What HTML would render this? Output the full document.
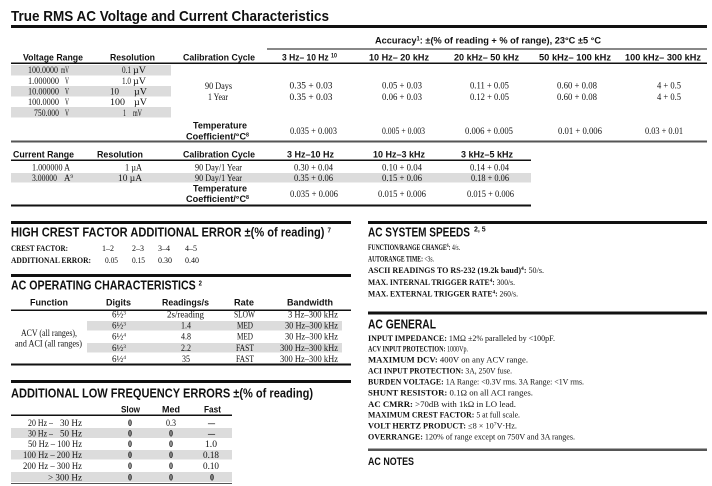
<!DOCTYPE html>
<html><head><meta charset="utf-8"><style>
html,body{margin:0;padding:0;background:#fff;}
svg{display:block;}
.t{font-family:"Liberation Sans",sans-serif;font-weight:bold;font-size:15px;fill:#111;}
.sec{font-family:"Liberation Sans",sans-serif;font-weight:bold;font-size:12.5px;fill:#111;}
.h{font-family:"Liberation Sans",sans-serif;font-weight:bold;font-size:9.5px;fill:#111;}
.d{font-family:"Liberation Serif",serif;font-size:9px;fill:#111;}
.i{font-family:"Liberation Serif",serif;font-size:8px;fill:#111;}
.b{font-weight:bold;}
.g{fill:#dcdcdc;}
.k{fill:#111;}
.m{fill:#555;}
</style></head><body>
<svg width="712" height="486" viewBox="0 0 712 486" xmlns="http://www.w3.org/2000/svg">
<!-- Title -->
<text class="t" x="11" y="21" textLength="318" lengthAdjust="spacingAndGlyphs">True RMS AC Voltage and Current Characteristics</text>
<rect class="k" x="11" y="25" width="696" height="3"/>

<!-- Accuracy -->
<text class="h" x="375" y="43.5" textLength="226" lengthAdjust="spacingAndGlyphs">Accuracy<tspan font-size="6" dy="-3">1</tspan><tspan dy="3">: ±(% of reading + % of range), 23°C ±5 °C</tspan></text>
<rect class="k" x="267" y="48.5" width="440" height="1"/>

<!-- Voltage header -->
<text class="h" x="23" y="60.5" textLength="60" lengthAdjust="spacingAndGlyphs">Voltage Range</text>
<text class="h" x="110" y="60.5" textLength="45" lengthAdjust="spacingAndGlyphs">Resolution</text>
<text class="h" x="183" y="60.5" textLength="72" lengthAdjust="spacingAndGlyphs">Calibration Cycle</text>
<text class="h" x="282" y="60.5" textLength="55" lengthAdjust="spacingAndGlyphs">3 Hz– 10 Hz <tspan font-size="6" dy="-3">10</tspan></text>
<text class="h" x="369" y="60.5" textLength="60" lengthAdjust="spacingAndGlyphs">10 Hz– 20 kHz</text>
<text class="h" x="454" y="60.5" textLength="65" lengthAdjust="spacingAndGlyphs">20 kHz– 50 kHz</text>
<text class="h" x="539" y="60.5" textLength="72" lengthAdjust="spacingAndGlyphs">50 kHz– 100 kHz</text>
<text class="h" x="625" y="60.5" textLength="76" lengthAdjust="spacingAndGlyphs">100 kHz– 300 kHz</text>
<rect class="k" x="11" y="62.5" width="696" height="1.5"/>

<rect class="g" x="11" y="65" width="160" height="10.5"/>
<rect class="g" x="11" y="86" width="160" height="10.5"/>
<rect class="g" x="11" y="107" width="160" height="10.5"/>

<text class="d" x="28" y="73" textLength="30" lengthAdjust="spacingAndGlyphs">100.0000</text><text class="d" x="61" y="73" textLength="8" lengthAdjust="spacingAndGlyphs">mV</text>
<text class="d" x="28" y="84" textLength="31" lengthAdjust="spacingAndGlyphs">1.000000</text><text class="d" x="65" y="84" textLength="4" lengthAdjust="spacingAndGlyphs">V</text>
<text class="d" x="28" y="94.5" textLength="31" lengthAdjust="spacingAndGlyphs">10.00000</text><text class="d" x="65" y="94.5" textLength="4" lengthAdjust="spacingAndGlyphs">V</text>
<text class="d" x="28" y="105" textLength="31" lengthAdjust="spacingAndGlyphs">100.0000</text><text class="d" x="65" y="105" textLength="4" lengthAdjust="spacingAndGlyphs">V</text>
<text class="d" x="34" y="116" textLength="25" lengthAdjust="spacingAndGlyphs">750.000</text><text class="d" x="65" y="116" textLength="4" lengthAdjust="spacingAndGlyphs">V</text>

<text class="d" x="122" y="73" textLength="9" lengthAdjust="spacingAndGlyphs">0.1</text><text class="d" x="133" y="73" textLength="13" lengthAdjust="spacingAndGlyphs">µV</text>
<text class="d" x="122" y="84" textLength="9" lengthAdjust="spacingAndGlyphs">1.0</text><text class="d" x="133" y="84" textLength="13" lengthAdjust="spacingAndGlyphs">µV</text>
<text class="d" x="110" y="94.5" textLength="9" lengthAdjust="spacingAndGlyphs">10</text><text class="d" x="134" y="94.5" textLength="13" lengthAdjust="spacingAndGlyphs">µV</text>
<text class="d" x="110" y="105" textLength="15" lengthAdjust="spacingAndGlyphs">100</text><text class="d" x="134" y="105" textLength="13" lengthAdjust="spacingAndGlyphs">µV</text>
<text class="d" x="123" y="116" textLength="3" lengthAdjust="spacingAndGlyphs">1</text><text class="d" x="133" y="116" textLength="9" lengthAdjust="spacingAndGlyphs">mV</text>

<text class="d" x="205" y="89" textLength="27" lengthAdjust="spacingAndGlyphs">90 Days</text>
<text class="d" x="208" y="100" textLength="20" lengthAdjust="spacingAndGlyphs">1 Year</text>

<text class="d" x="289.5" y="88.5" textLength="43" lengthAdjust="spacingAndGlyphs">0.35 + 0.03</text>
<text class="d" x="289.5" y="100" textLength="43" lengthAdjust="spacingAndGlyphs">0.35 + 0.03</text>
<text class="d" x="382" y="88.5" textLength="40" lengthAdjust="spacingAndGlyphs">0.05 + 0.03</text>
<text class="d" x="382" y="100" textLength="40" lengthAdjust="spacingAndGlyphs">0.06 + 0.03</text>
<text class="d" x="470" y="88.5" textLength="39" lengthAdjust="spacingAndGlyphs">0.11 + 0.05</text>
<text class="d" x="470" y="100" textLength="39" lengthAdjust="spacingAndGlyphs">0.12 + 0.05</text>
<text class="d" x="557" y="88.5" textLength="40" lengthAdjust="spacingAndGlyphs">0.60 + 0.08</text>
<text class="d" x="557" y="100" textLength="40" lengthAdjust="spacingAndGlyphs">0.60 + 0.08</text>
<text class="d" x="657" y="88.5" textLength="24" lengthAdjust="spacingAndGlyphs">4 + 0.5</text>
<text class="d" x="657" y="100" textLength="24" lengthAdjust="spacingAndGlyphs">4 + 0.5</text>

<text class="h" x="193" y="128.5" textLength="54" lengthAdjust="spacingAndGlyphs">Temperature</text>
<text class="h" x="186" y="139.5" textLength="63" lengthAdjust="spacingAndGlyphs">Coefficient/°C<tspan font-size="5.5" dy="-3">8</tspan></text>
<text class="d" x="290" y="134" textLength="47" lengthAdjust="spacingAndGlyphs">0.035 + 0.003</text>
<text class="d" x="382" y="134" textLength="43" lengthAdjust="spacingAndGlyphs">0.005 + 0.003</text>
<text class="d" x="465" y="134" textLength="48" lengthAdjust="spacingAndGlyphs">0.006 + 0.005</text>
<text class="d" x="558" y="134" textLength="44" lengthAdjust="spacingAndGlyphs">0.01 + 0.006</text>
<text class="d" x="645" y="134" textLength="38" lengthAdjust="spacingAndGlyphs">0.03 + 0.01</text>

<rect class="m" x="11" y="140.5" width="696" height="2"/>

<!-- Current table -->
<text class="h" x="13" y="157.5" textLength="61" lengthAdjust="spacingAndGlyphs">Current Range</text>
<text class="h" x="97" y="157.5" textLength="46" lengthAdjust="spacingAndGlyphs">Resolution</text>
<text class="h" x="183" y="157.5" textLength="72" lengthAdjust="spacingAndGlyphs">Calibration Cycle</text>
<text class="h" x="287" y="157.5" textLength="47" lengthAdjust="spacingAndGlyphs">3 Hz–10 Hz</text>
<text class="h" x="373" y="157.5" textLength="52" lengthAdjust="spacingAndGlyphs">10 Hz–3 kHz</text>
<text class="h" x="461" y="157.5" textLength="52" lengthAdjust="spacingAndGlyphs">3 kHz–5 kHz</text>
<rect class="k" x="11" y="159.5" width="520" height="1.5"/>

<rect class="g" x="11" y="173" width="520" height="9.5"/>

<text class="d" x="32" y="170.5" textLength="38" lengthAdjust="spacingAndGlyphs">1.000000 A</text>
<text class="d" x="125" y="170.5" textLength="17" lengthAdjust="spacingAndGlyphs">1 µA</text>
<text class="d" x="195" y="170.5" textLength="47" lengthAdjust="spacingAndGlyphs">90 Day/1 Year</text>
<text class="d" x="294" y="170.5" textLength="39" lengthAdjust="spacingAndGlyphs">0.30 + 0.04</text>
<text class="d" x="382" y="170.5" textLength="40" lengthAdjust="spacingAndGlyphs">0.10 + 0.04</text>
<text class="d" x="470" y="170.5" textLength="39" lengthAdjust="spacingAndGlyphs">0.14 + 0.04</text>

<text class="d" x="32" y="181" textLength="25" lengthAdjust="spacingAndGlyphs">3.00000</text>
<text class="d" x="64" y="181" textLength="9" lengthAdjust="spacingAndGlyphs">A<tspan font-size="5.5" dy="-3">9</tspan></text>
<text class="d" x="118" y="181" textLength="24" lengthAdjust="spacingAndGlyphs">10 µA</text>
<text class="d" x="195" y="181" textLength="47" lengthAdjust="spacingAndGlyphs">90 Day/1 Year</text>
<text class="d" x="294" y="181" textLength="39" lengthAdjust="spacingAndGlyphs">0.35 + 0.06</text>
<text class="d" x="382" y="181" textLength="40" lengthAdjust="spacingAndGlyphs">0.15 + 0.06</text>
<text class="d" x="471" y="181" textLength="38" lengthAdjust="spacingAndGlyphs">0.18 + 0.06</text>

<text class="h" x="193" y="191.5" textLength="54" lengthAdjust="spacingAndGlyphs">Temperature</text>
<text class="h" x="186" y="202" textLength="63" lengthAdjust="spacingAndGlyphs">Coefficient/°C<tspan font-size="5.5" dy="-3">8</tspan></text>
<text class="d" x="290" y="197" textLength="48" lengthAdjust="spacingAndGlyphs">0.035 + 0.006</text>
<text class="d" x="378" y="197" textLength="48" lengthAdjust="spacingAndGlyphs">0.015 + 0.006</text>
<text class="d" x="467" y="197" textLength="47" lengthAdjust="spacingAndGlyphs">0.015 + 0.006</text>
<rect class="k" x="11" y="204.5" width="520" height="2"/>

<!-- HIGH CREST FACTOR -->
<rect class="k" x="11" y="221" width="340" height="3"/>
<text class="sec" x="11" y="236.5" textLength="320" lengthAdjust="spacingAndGlyphs">HIGH CREST FACTOR ADDITIONAL ERROR ±(% of reading) <tspan font-size="7" dy="-4">7</tspan></text>
<text class="i b" x="11" y="251" textLength="57" lengthAdjust="spacingAndGlyphs">CREST FACTOR:</text>
<text class="i" x="102" y="251" textLength="12" lengthAdjust="spacingAndGlyphs">1–2</text>
<text class="i" x="132" y="251" textLength="12" lengthAdjust="spacingAndGlyphs">2–3</text>
<text class="i" x="158" y="251" textLength="12" lengthAdjust="spacingAndGlyphs">3–4</text>
<text class="i" x="185" y="251" textLength="12" lengthAdjust="spacingAndGlyphs">4–5</text>
<text class="i b" x="11" y="263" textLength="80" lengthAdjust="spacingAndGlyphs">ADDITIONAL ERROR:</text>
<text class="i" x="105" y="263" textLength="13" lengthAdjust="spacingAndGlyphs">0.05</text>
<text class="i" x="132" y="263" textLength="13" lengthAdjust="spacingAndGlyphs">0.15</text>
<text class="i" x="158" y="263" textLength="14" lengthAdjust="spacingAndGlyphs">0.30</text>
<text class="i" x="185" y="263" textLength="14" lengthAdjust="spacingAndGlyphs">0.40</text>

<!-- AC OPERATING -->
<rect class="k" x="11" y="274" width="340" height="3"/>
<text class="sec" x="11" y="289.5" textLength="191" lengthAdjust="spacingAndGlyphs">AC OPERATING CHARACTERISTICS <tspan font-size="7" dy="-4">2</tspan></text>
<text class="h" x="30" y="305.5" textLength="38" lengthAdjust="spacingAndGlyphs">Function</text>
<text class="h" x="106" y="305.5" textLength="25" lengthAdjust="spacingAndGlyphs">Digits</text>
<text class="h" x="162" y="305.5" textLength="47" lengthAdjust="spacingAndGlyphs">Readings/s</text>
<text class="h" x="234" y="305.5" textLength="20" lengthAdjust="spacingAndGlyphs">Rate</text>
<text class="h" x="287" y="305.5" textLength="46" lengthAdjust="spacingAndGlyphs">Bandwidth</text>
<rect class="k" x="11" y="309.5" width="340" height="1.5"/>

<rect class="g" x="87" y="321" width="255" height="9.5"/>
<rect class="g" x="87" y="343" width="255" height="9.5"/>

<text class="d" x="21" y="336" textLength="56" lengthAdjust="spacingAndGlyphs">ACV (all ranges),</text>
<text class="d" x="15" y="346.5" textLength="67" lengthAdjust="spacingAndGlyphs">and ACI (all ranges)</text>

<text class="d" x="112" y="317.5" textLength="14" lengthAdjust="spacingAndGlyphs">6½<tspan font-size="5.5" dy="-3">3</tspan></text>
<text class="d" x="112" y="328.5" textLength="14" lengthAdjust="spacingAndGlyphs">6½<tspan font-size="5.5" dy="-3">3</tspan></text>
<text class="d" x="112" y="339.5" textLength="14" lengthAdjust="spacingAndGlyphs">6½<tspan font-size="5.5" dy="-3">4</tspan></text>
<text class="d" x="112" y="351" textLength="14" lengthAdjust="spacingAndGlyphs">6½<tspan font-size="5.5" dy="-3">3</tspan></text>
<text class="d" x="112" y="362" textLength="14" lengthAdjust="spacingAndGlyphs">6½<tspan font-size="5.5" dy="-3">4</tspan></text>

<text class="d" x="167" y="317.5" textLength="37" lengthAdjust="spacingAndGlyphs">2s/reading</text>
<text class="d" x="181" y="328.5" textLength="10" lengthAdjust="spacingAndGlyphs">1.4</text>
<text class="d" x="181" y="339.5" textLength="10" lengthAdjust="spacingAndGlyphs">4.8</text>
<text class="d" x="181" y="351" textLength="10" lengthAdjust="spacingAndGlyphs">2.2</text>
<text class="d" x="182" y="362" textLength="8" lengthAdjust="spacingAndGlyphs">35</text>

<text class="d" x="234" y="317.5" textLength="21" lengthAdjust="spacingAndGlyphs">SLOW</text>
<text class="d" x="237" y="328.5" textLength="16" lengthAdjust="spacingAndGlyphs">MED</text>
<text class="d" x="237" y="339.5" textLength="16" lengthAdjust="spacingAndGlyphs">MED</text>
<text class="d" x="236" y="351" textLength="18" lengthAdjust="spacingAndGlyphs">FAST</text>
<text class="d" x="236" y="362" textLength="18" lengthAdjust="spacingAndGlyphs">FAST</text>

<text class="d" x="288" y="317.5" textLength="50" lengthAdjust="spacingAndGlyphs">3 Hz–300 kHz</text>
<text class="d" x="285" y="328.5" textLength="53" lengthAdjust="spacingAndGlyphs">30 Hz–300 kHz</text>
<text class="d" x="285" y="339.5" textLength="53" lengthAdjust="spacingAndGlyphs">30 Hz–300 kHz</text>
<text class="d" x="280" y="351" textLength="58" lengthAdjust="spacingAndGlyphs">300 Hz–300 kHz</text>
<text class="d" x="280" y="362" textLength="58" lengthAdjust="spacingAndGlyphs">300 Hz–300 kHz</text>
<rect class="k" x="11" y="363.5" width="340" height="2"/>

<!-- LOW FREQUENCY -->
<rect class="k" x="11" y="380" width="340" height="3"/>
<text class="sec" x="11" y="397.5" textLength="302" lengthAdjust="spacingAndGlyphs">ADDITIONAL LOW FREQUENCY ERRORS ±(% of reading)</text>
<text class="h" x="121" y="412.5" textLength="19" lengthAdjust="spacingAndGlyphs">Slow</text>
<text class="h" x="162" y="412.5" textLength="18" lengthAdjust="spacingAndGlyphs">Med</text>
<text class="h" x="204" y="412.5" textLength="17" lengthAdjust="spacingAndGlyphs">Fast</text>
<rect class="k" x="11" y="414.5" width="221" height="1.5"/>

<rect class="g" x="11" y="428" width="221" height="10"/>
<rect class="g" x="11" y="450" width="221" height="9.5"/>
<rect class="g" x="11" y="472" width="221" height="10"/>

<text class="d" x="28" y="426" textLength="25" lengthAdjust="spacingAndGlyphs">20 Hz –</text><text class="d" x="60" y="426" textLength="22" lengthAdjust="spacingAndGlyphs">30 Hz</text>
<text class="d" x="28" y="436.5" textLength="25" lengthAdjust="spacingAndGlyphs">30 Hz –</text><text class="d" x="60" y="436.5" textLength="22" lengthAdjust="spacingAndGlyphs">50 Hz</text>
<text class="d" x="28" y="447" textLength="54" lengthAdjust="spacingAndGlyphs">50 Hz – 100 Hz</text>
<text class="d" x="23" y="458" textLength="59" lengthAdjust="spacingAndGlyphs">100 Hz – 200 Hz</text>
<text class="d" x="23" y="469" textLength="59" lengthAdjust="spacingAndGlyphs">200 Hz – 300 Hz</text>
<text class="d" x="48" y="480.5" textLength="34" lengthAdjust="spacingAndGlyphs">&gt; 300 Hz</text>

<text class="d b" x="128" y="426" textLength="4" lengthAdjust="spacingAndGlyphs">0</text>
<text class="d b" x="128" y="436.5" textLength="4" lengthAdjust="spacingAndGlyphs">0</text>
<text class="d b" x="128" y="447" textLength="4" lengthAdjust="spacingAndGlyphs">0</text>
<text class="d b" x="128" y="458" textLength="4" lengthAdjust="spacingAndGlyphs">0</text>
<text class="d b" x="128" y="469" textLength="4" lengthAdjust="spacingAndGlyphs">0</text>
<text class="d b" x="128" y="480.5" textLength="4" lengthAdjust="spacingAndGlyphs">0</text>

<text class="d" x="166" y="426" textLength="10" lengthAdjust="spacingAndGlyphs">0.3</text>
<text class="d b" x="169" y="436.5" textLength="4" lengthAdjust="spacingAndGlyphs">0</text>
<text class="d b" x="169" y="447" textLength="4" lengthAdjust="spacingAndGlyphs">0</text>
<text class="d b" x="169" y="458" textLength="4" lengthAdjust="spacingAndGlyphs">0</text>
<text class="d b" x="169" y="469" textLength="4" lengthAdjust="spacingAndGlyphs">0</text>
<text class="d b" x="169" y="480.5" textLength="4" lengthAdjust="spacingAndGlyphs">0</text>

<text class="d b" x="208" y="426" textLength="7" lengthAdjust="spacingAndGlyphs">–</text>
<text class="d b" x="208" y="436.5" textLength="7" lengthAdjust="spacingAndGlyphs">–</text>
<text class="d" x="205" y="447" textLength="12" lengthAdjust="spacingAndGlyphs">1.0</text>
<text class="d" x="203" y="458" textLength="16" lengthAdjust="spacingAndGlyphs">0.18</text>
<text class="d" x="203" y="469" textLength="16" lengthAdjust="spacingAndGlyphs">0.10</text>
<text class="d b" x="210" y="480.5" textLength="4" lengthAdjust="spacingAndGlyphs">0</text>
<rect class="m" x="11" y="483" width="221" height="1"/>

<!-- AC SYSTEM SPEEDS -->
<rect class="k" x="368" y="221" width="339" height="3"/>
<text class="sec" x="368" y="236.5" textLength="102" lengthAdjust="spacingAndGlyphs">AC SYSTEM SPEEDS</text>
<text x="474" y="231.5" style="font-family:'Liberation Sans',sans-serif;font-weight:bold;font-size:7px;fill:#111;">2, 5</text>
<text class="i" x="368" y="250" textLength="92" lengthAdjust="spacingAndGlyphs"><tspan class="b">FUNCTION/RANGE CHANGE<tspan font-size="5.5" dy="-3">6</tspan><tspan dy="3">:</tspan></tspan> 4/s.</text>
<text class="i" x="368" y="261.5" textLength="66" lengthAdjust="spacingAndGlyphs"><tspan class="b">AUTORANGE TIME:</tspan> &lt;3s.</text>
<text class="i" x="368" y="273" textLength="176" lengthAdjust="spacingAndGlyphs"><tspan class="b">ASCII READINGS TO RS-232 (19.2k baud)<tspan font-size="5.5" dy="-3">4</tspan><tspan dy="3">:</tspan></tspan> 50/s.</text>
<text class="i" x="368" y="285" textLength="147" lengthAdjust="spacingAndGlyphs"><tspan class="b">MAX. INTERNAL TRIGGER RATE<tspan font-size="5.5" dy="-3">4</tspan><tspan dy="3">:</tspan></tspan> 300/s.</text>
<text class="i" x="368" y="296.5" textLength="150" lengthAdjust="spacingAndGlyphs"><tspan class="b">MAX. EXTERNAL TRIGGER RATE<tspan font-size="5.5" dy="-3">4</tspan><tspan dy="3">:</tspan></tspan> 260/s.</text>

<!-- AC GENERAL -->
<rect class="k" x="368" y="311.5" width="339" height="3"/>
<text class="sec" x="368" y="328.5" textLength="68" lengthAdjust="spacingAndGlyphs">AC GENERAL</text>
<text class="i" x="368" y="341" textLength="187" lengthAdjust="spacingAndGlyphs"><tspan class="b">INPUT IMPEDANCE:</tspan> 1MΩ ±2% paralleled by &lt;100pF.</text>
<text class="i" x="368" y="351.5" textLength="100" lengthAdjust="spacingAndGlyphs"><tspan class="b">ACV INPUT PROTECTION:</tspan> 1000Vp.</text>
<text class="i" x="368" y="362.5" textLength="160" lengthAdjust="spacingAndGlyphs"><tspan class="b">MAXIMUM DCV:</tspan> 400V on any ACV range.</text>
<text class="i" x="368" y="373.5" textLength="144" lengthAdjust="spacingAndGlyphs"><tspan class="b">ACI INPUT PROTECTION:</tspan> 3A, 250V fuse.</text>
<text class="i" x="368" y="384.5" textLength="216" lengthAdjust="spacingAndGlyphs"><tspan class="b">BURDEN VOLTAGE:</tspan> 1A Range: &lt;0.3V rms. 3A Range: &lt;1V rms.</text>
<text class="i" x="368" y="395.5" textLength="165" lengthAdjust="spacingAndGlyphs"><tspan class="b">SHUNT RESISTOR:</tspan> 0.1Ω on all ACI ranges.</text>
<text class="i" x="368" y="407" textLength="148" lengthAdjust="spacingAndGlyphs"><tspan class="b">AC CMRR:</tspan> &gt;70dB with 1kΩ in LO lead.</text>
<text class="i" x="368" y="417.5" textLength="152" lengthAdjust="spacingAndGlyphs"><tspan class="b">MAXIMUM CREST FACTOR:</tspan> 5 at full scale.</text>
<text class="i" x="368" y="428.5" textLength="149" lengthAdjust="spacingAndGlyphs"><tspan class="b">VOLT HERTZ PRODUCT:</tspan> ≤8 × 10<tspan font-size="5.5" dy="-3">7</tspan><tspan dy="3">V·Hz.</tspan></text>
<text class="i" x="368" y="439.5" textLength="207" lengthAdjust="spacingAndGlyphs"><tspan class="b">OVERRANGE:</tspan> 120% of range except on 750V and 3A ranges.</text>
<rect class="m" x="368" y="448.5" width="339" height="2.5"/>
<text x="368" y="465" textLength="46" lengthAdjust="spacingAndGlyphs" style="font-family:'Liberation Sans',sans-serif;font-weight:bold;font-size:11px;fill:#111;">AC NOTES</text>
</svg>
</body></html>
